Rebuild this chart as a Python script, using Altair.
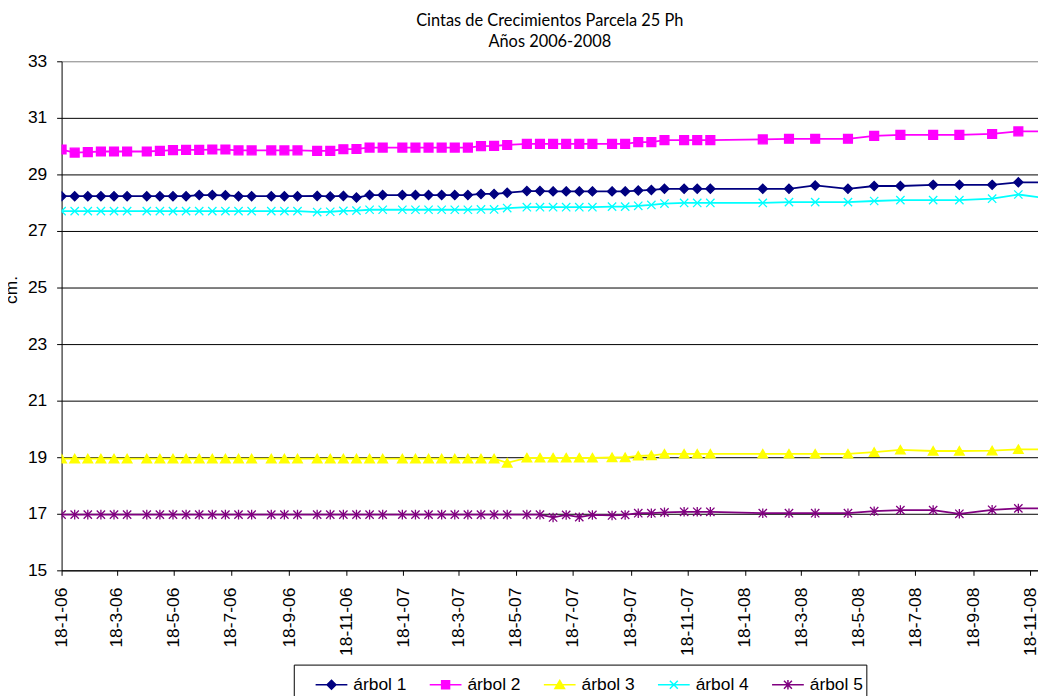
import altair as alt
import pandas as pd

# ---------------- data ----------------
FECHAS = [
    "2006-01-18", "2006-02-01", "2006-02-15", "2006-03-01", "2006-03-15", "2006-03-29",
    "2006-04-19", "2006-05-03", "2006-05-17", "2006-05-31", "2006-06-14", "2006-06-28",
    "2006-07-12", "2006-07-26", "2006-08-09", "2006-08-30", "2006-09-13", "2006-09-27",
    "2006-10-18", "2006-11-01", "2006-11-15", "2006-11-29", "2006-12-13", "2006-12-27",
    "2007-01-17", "2007-01-31", "2007-02-14", "2007-02-28", "2007-03-14", "2007-03-28",
    "2007-04-11", "2007-04-25", "2007-05-09", "2007-05-30", "2007-06-13", "2007-06-27",
    "2007-07-11", "2007-07-25", "2007-08-08", "2007-08-29", "2007-09-12", "2007-09-26",
    "2007-10-10", "2007-10-24", "2007-11-14", "2007-11-28", "2007-12-12", "2008-02-06",
    "2008-03-05", "2008-04-02", "2008-05-07", "2008-06-04", "2008-07-02", "2008-08-06",
    "2008-09-03", "2008-10-08", "2008-11-05", "2008-12-03",
]

ARBOL_1 = [28.23, 28.23, 28.23, 28.23, 28.23, 28.23, 28.23, 28.23, 28.23, 28.23,
           28.27, 28.27, 28.26, 28.23, 28.23, 28.23, 28.23, 28.23,
           28.24, 28.22, 28.24, 28.18,
           28.27, 28.27, 28.27, 28.27, 28.27, 28.27, 28.27, 28.27,
           28.31, 28.31, 28.35, 28.41, 28.41,
           28.40, 28.40, 28.40, 28.40, 28.40, 28.40,
           28.43, 28.45,
           28.49, 28.49, 28.49, 28.49, 28.49, 28.49,
           28.61, 28.49, 28.59, 28.59, 28.63, 28.63, 28.63, 28.72, 28.72]

ARBOL_2 = [29.88, 29.77, 29.79, 29.81, 29.81, 29.81, 29.81, 29.83, 29.86, 29.87,
           29.87, 29.88, 29.88, 29.85, 29.85, 29.85, 29.85, 29.85,
           29.83, 29.83, 29.89, 29.90,
           29.95, 29.95, 29.95, 29.95, 29.95, 29.95, 29.95, 29.95,
           30.00, 30.01, 30.04, 30.08, 30.08,
           30.08, 30.08, 30.08, 30.08, 30.08, 30.08,
           30.14, 30.14,
           30.21, 30.21, 30.21, 30.21, 30.24, 30.26,
           30.26, 30.26, 30.36, 30.40, 30.40, 30.40, 30.43, 30.52, 30.52]

ARBOL_3 = [18.95, 18.95, 18.95, 18.95, 18.95, 18.95, 18.95, 18.95, 18.95, 18.95,
           18.95, 18.95, 18.95, 18.95, 18.95, 18.95, 18.95, 18.95,
           18.95, 18.95, 18.95, 18.95,
           18.95, 18.95, 18.95, 18.95, 18.95, 18.95, 18.95, 18.95,
           18.95, 18.95, 18.80, 18.98, 18.98,
           18.98, 18.98, 18.98, 18.98, 18.99, 18.99,
           19.05, 19.06,
           19.12, 19.12, 19.12, 19.12, 19.12, 19.12,
           19.12, 19.12, 19.18, 19.26, 19.22, 19.22, 19.23, 19.28, 19.28]

ARBOL_4 = [27.70, 27.70, 27.70, 27.70, 27.70, 27.70, 27.70, 27.70, 27.70, 27.70,
           27.70, 27.70, 27.70, 27.70, 27.70, 27.70, 27.70, 27.70,
           27.67, 27.68, 27.71, 27.72,
           27.75, 27.75, 27.75, 27.75, 27.75, 27.75, 27.75, 27.75,
           27.76, 27.76, 27.81, 27.84, 27.84,
           27.84, 27.84, 27.84, 27.84, 27.86, 27.86,
           27.89, 27.92,
           27.97, 27.99, 27.99, 27.99, 27.99, 28.02,
           28.02, 28.02, 28.06, 28.09, 28.09, 28.09, 28.14, 28.29, 28.17]

ARBOL_5 = [16.97, 16.97, 16.97, 16.97, 16.97, 16.97, 16.97, 16.97, 16.97, 16.97,
           16.97, 16.97, 16.97, 16.97, 16.97, 16.97, 16.97, 16.97,
           16.97, 16.97, 16.97, 16.97,
           16.97, 16.97, 16.97, 16.97, 16.97, 16.97, 16.97, 16.97,
           16.97, 16.97, 16.97, 16.97, 16.97,
           16.87, 16.96, 16.88, 16.96, 16.94, 16.96,
           17.02, 17.02,
           17.05, 17.07, 17.07, 17.07, 17.02, 17.02,
           17.02, 17.02, 17.09, 17.13, 17.13, 17.00, 17.14, 17.19, 17.19]

SERIES = ["árbol 1", "árbol 2", "árbol 3", "árbol 4", "árbol 5"]
VALUES = [ARBOL_1, ARBOL_2, ARBOL_3, ARBOL_4, ARBOL_5]

Y_TICKS = [15, 17, 19, 21, 23, 25, 27, 29, 31, 33]
X_TICKS = [(2006, 1), (2006, 3), (2006, 5), (2006, 7), (2006, 9), (2006, 11),
           (2007, 1), (2007, 3), (2007, 5), (2007, 7), (2007, 9), (2007, 11),
           (2008, 1), (2008, 3), (2008, 5), (2008, 7), (2008, 9), (2008, 11)]
TICK_DAY = 18

TITLE = ["Cintas de Crecimientos Parcela 25 Ph", "Años 2006-2008"]

# ---------------- styles ----------------
COLORS = ["#000080", "#FF00FF", "#FFFF00", "#00FFFF", "#800080"]
MARKERS = [
    "M0,-1L1,0L0,1L-1,0Z",
    "M-1,-1L1,-1L1,1L-1,1Z",
    "M0,-0.9L1,0.85L-1,0.85Z",
    "M-1,-1L1,1M-1,1L1,-1",
    "M-1,-1L1,1M-1,1L1,-1M0,-1.15L0,1.15",
]
MARKER_SIZES = [85, 80, 95, 70, 70]
LEGEND_SHAPES = [
    "M-1,0L1,0M0,-0.28L0.28,0L0,0.28L-0.28,0Z",
    "M-1,0L1,0M-0.25,-0.25L0.25,-0.25L0.25,0.25L-0.25,0.25Z",
    "M-1,0L1,0M0,-0.27L0.3,0.24L-0.3,0.24Z",
    "M-1,0L1,0M-0.25,-0.25L0.25,0.25M-0.25,0.25L0.25,-0.25",
    "M-1,0L1,0M-0.25,-0.25L0.25,0.25M-0.25,0.25L0.25,-0.25M0,-0.3L0,0.3",
]
FONT = "Liberation Sans"

rows = []
for s, vals in zip(SERIES, VALUES):
    for f, v in zip(FECHAS, vals):
        rows.append({"fecha": f, "serie": s, "valor": v})
df = pd.DataFrame(rows)

x_enc = alt.X(
    "fecha:T",
    scale=alt.Scale(
        type="utc",
        domain=[alt.DateTime(year=2006, month=1, date=18, utc=True),
                alt.DateTime(year=2008, month=11, date=26, utc=True)],
    ),
    axis=alt.Axis(
        values=[alt.DateTime(year=y, month=m, date=TICK_DAY, utc=True) for y, m in X_TICKS],
        labelExpr="utcdate(datum.value) + '-' + (utcmonth(datum.value) + 1) + '-' + utcFormat(datum.value, '%y')",
        labelAngle=270, labelFont=FONT, labelFontSize=17.5, labelColor="black",
        labelPadding=12, tickSize=5, tickColor="black", domainColor="black",
        grid=False, title=None, labelOverlap=False, labelBound=False, labelFlush=False,
    ),
)
y_enc = alt.Y(
    "valor:Q",
    scale=alt.Scale(domain=[15, 33], nice=False, zero=False),
    axis=alt.Axis(
        values=Y_TICKS, labelFont=FONT, labelFontSize=17.5, labelColor="black",
        labelPadding=10, tickSize=5, tickColor="black", domainColor="black",
        gridColor={"condition": {"test": "datum.value === 33", "value": "#808080"}, "value": "#000000"},
        gridWidth=1, title="cm.", titleFont=FONT,
        titleFontSize=17.5, titleFontWeight="normal", titleColor="black",
        titleAngle=270, titleX=-45, titleY=230, titleBaseline="alphabetic",
        titleAlign="center",
    ),
)

leg = alt.Legend(
    title=None, orient="none", legendX=234, legendY=608, direction="horizontal",
    columns=5, symbolSize=1024, symbolStrokeWidth=1.5, symbolOpacity=1,
    labelFont=FONT, labelFontSize=17.5, labelColor="black", labelOffset=5,
    columnPadding=4, padding=3, strokeColor="black", fillColor="white",
    symbolOffset=18,
)

lines = alt.Chart(df).mark_line(strokeWidth=1.8, clip=True).encode(
    x=x_enc, y=y_enc,
    color=alt.Color("serie:N", scale=alt.Scale(domain=SERIES, range=COLORS), legend=leg),
    order=alt.Order("fecha:T"),
)

layers = [lines]
for i, s in enumerate(SERIES):
    layers.append(
        alt.Chart(df).transform_filter(alt.datum.serie == s).mark_point(
            shape=MARKERS[i], size=MARKER_SIZES[i], filled=True,
            fill=COLORS[i], stroke=COLORS[i], strokeWidth=1.3, opacity=1, clip=True,
        ).encode(x="fecha:T", y="valor:Q")
    )

legend_layer = alt.Chart(df).mark_point(
    filled=True, size=0, opacity=0, clip=True
).encode(
    x="fecha:T", y="valor:Q",
    fill=alt.Fill("serie:N", scale=alt.Scale(domain=SERIES, range=COLORS), legend=leg),
    stroke=alt.Stroke("serie:N", scale=alt.Scale(domain=SERIES, range=COLORS), legend=leg),
    shape=alt.Shape("serie:N", scale=alt.Scale(domain=SERIES, range=LEGEND_SHAPES), legend=leg),
)
layers.append(legend_layer)

chart = alt.layer(*layers).properties(
    width=984, height=513,
    autosize=alt.AutoSizeParams(type="none"),
    padding={"left": 54, "top": 51, "right": 0, "bottom": 132},
    title=alt.TitleParams(
        text=TITLE, font="Lato", fontSize=16.5, fontWeight="normal", color="black",
        anchor="middle", frame="group", offset=2, lineHeight=21,
    ),
).configure_view(stroke="transparent")

chart.save("out.html", embed_options={"renderer": "svg", "actions": False})
